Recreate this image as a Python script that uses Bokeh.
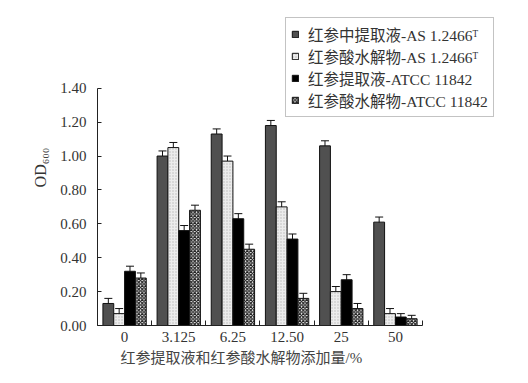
import numpy as np
from bokeh.plotting import figure
from bokeh.models import (ColumnDataSource, Whisker, TeeHead, Legend, LegendItem,
                          FixedTicker, Title, CustomJSTickFormatter, NumeralTickFormatter)
from bokeh.embed import file_html
from bokeh.resources import INLINE

categories = ["0", "3.125", "6.25", "12.50", "25", "50"]
series_names = ["红参中提取液-AS 1.2466ᵀ", "红参酸水解物-AS 1.2466ᵀ",
                "红参提取液-ATCC 11842", "红参酸水解物-ATCC 11842"]
s1 = [0.13, 1.00, 1.13, 1.18, 1.06, 0.61]
s2 = [0.07, 1.05, 0.97, 0.70, 0.20, 0.07]
s3 = [0.32, 0.56, 0.63, 0.51, 0.27, 0.05]
s4 = [0.28, 0.68, 0.45, 0.16, 0.10, 0.04]
e1 = [0.03, 0.03, 0.03, 0.03, 0.03, 0.03]
e2 = [0.03, 0.03, 0.03, 0.03, 0.03, 0.03]
e3 = [0.03, 0.03, 0.03, 0.03, 0.03, 0.02]
e4 = [0.03, 0.03, 0.03, 0.03, 0.03, 0.02]
y_ticks = [0.0, 0.2, 0.4, 0.6, 0.8, 1.0, 1.2, 1.4]
y_label = "OD₆₀₀"
x_title = "红参提取液和红参酸水解物添加量/%"

SERIF = "'Liberation Serif', 'Times New Roman', 'Noto Sans CJK SC', serif"

p = figure(width=520, height=375, output_backend="svg", toolbar_location=None,
           x_range=(-0.5, 7.217), y_range=(0, 1.8647),
           min_border_left=97, min_border_right=5, min_border_top=9, min_border_bottom=50)
p.outline_line_color = None
p.xgrid.visible = False
p.ygrid.visible = False

n = len(categories)
idx = np.arange(n)
offsets = [-0.3, -0.1, 0.1, 0.3]
vals = [s1, s2, s3, s4]
errs = [e1, e2, e3, e4]
styles = [
    dict(fill_color="#505050"),
    dict(fill_color="#ececec", hatch_pattern="dot", hatch_color="#b8b8b8", hatch_scale=3, hatch_weight=1),
    dict(fill_color="#000000"),
    dict(fill_color="#ffffff", hatch_pattern="diagonal_cross", hatch_color="#222222", hatch_scale=3.5, hatch_weight=1.3),
]
items = []
for k in range(4):
    v = np.array(vals[k]); e = np.array(errs[k])
    src = ColumnDataSource(dict(x=idx + offsets[k], top=v, upper=v + e, lower=v - e))
    r = p.vbar(x="x", top="top", width=0.2, bottom=0, source=src,
               line_color="#111111", line_width=1, **styles[k])
    items.append(LegendItem(label=series_names[k], renderers=[r]))
    w = Whisker(base="x", upper="upper", lower="lower", source=src,
                line_color="#111111", line_width=1,
                upper_head=TeeHead(size=8, line_color="#111111", line_width=1),
                lower_head=TeeHead(size=8, line_color="#111111", line_width=1))
    p.add_layout(w)

# axes
p.yaxis.ticker = FixedTicker(ticks=y_ticks)
p.yaxis.formatter = NumeralTickFormatter(format="0.00")
p.yaxis.bounds = (0, 1.4)
p.yaxis.major_tick_in = 4
p.yaxis.major_tick_out = 0
p.yaxis.minor_tick_line_color = None
p.yaxis.axis_line_color = "#222222"
p.yaxis.major_tick_line_color = "#222222"
p.yaxis.major_label_text_font = SERIF
p.yaxis.major_label_text_font_size = "15px"
p.yaxis.major_label_text_color = "#333333"
p.yaxis.major_label_standoff = 11
p.yaxis.axis_label = y_label
p.yaxis.axis_label_text_font = SERIF
p.yaxis.axis_label_text_font_size = "16px"
p.yaxis.axis_label_text_font_style = "normal"
p.yaxis.axis_label_text_color = "#333333"
p.yaxis.axis_label_standoff = 8

boundaries = [i + 0.5 for i in range(-1, n)]
p.xaxis.ticker = FixedTicker(ticks=list(idx), minor_ticks=boundaries)
p.xaxis.formatter = CustomJSTickFormatter(args=dict(labels=categories),
                                          code="return labels[Math.round(tick)] || '';")
p.xaxis.bounds = (-0.5, n - 0.5)
p.xaxis.major_tick_in = 0
p.xaxis.major_tick_out = 0
p.xaxis.minor_tick_in = 5
p.xaxis.minor_tick_out = 0
p.xaxis.minor_tick_line_color = "#222222"
p.xaxis.axis_line_color = "#222222"
p.xaxis.major_label_text_font = SERIF
p.xaxis.major_label_text_font_size = "15px"
p.xaxis.major_label_text_color = "#333333"
p.xaxis.major_label_standoff = 6

t = Title(text=x_title, align="left", offset=23, text_font=SERIF, text_font_size="15px",
          text_font_style="normal", text_color="#444444", standoff=6)
p.add_layout(t, "below")

legend = Legend(items=items, location=(188, 208))
legend.label_text_font = SERIF
legend.label_text_font_size = "15.5px"
legend.label_text_color = "#333333"
legend.glyph_width = 8
legend.glyph_height = 8
legend.label_height = 18
legend.label_standoff = 9
legend.spacing = 0
legend.padding = 5
legend.margin = 0
legend.border_line_color = "#888888"
legend.border_line_width = 1
legend.background_fill_alpha = 1
p.add_layout(legend)

open("out.html", "w").write(file_html(p, INLINE))
